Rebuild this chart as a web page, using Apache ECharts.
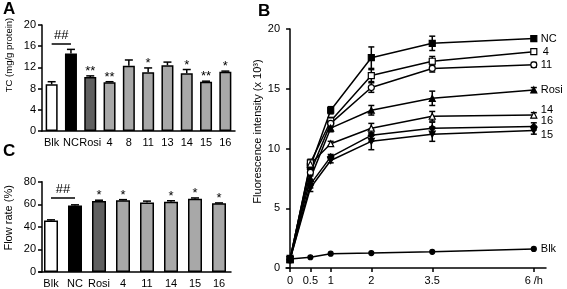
<!DOCTYPE html>
<html><head><meta charset="utf-8">
<script src="https://cdn.jsdelivr.net/npm/echarts@6/dist/echarts.min.js"></script>
<style>html,body{margin:0;padding:0;background:#fff}#c{width:567px;height:289px}</style>
</head><body><div id="c"></div>
<script>
// Panel A: TC
const catA = ['Blk','NC','Rosi','4','8','11','13','14','15','16'];
const valA = [8.8,14.6,10.2,9.2,12.3,11.1,12.4,10.9,9.3,11.2];
const errA = [0.5,0.8,0.2,0.1,1.1,0.8,0.6,0.7,0.1,0.1];
const sigA = ['','','**','**','','*','','*','**','*'];
const colA = ['#ffffff','#000000','#606060','#a8a8a8','#a8a8a8','#a8a8a8','#a8a8a8','#a8a8a8','#a8a8a8','#a8a8a8'];
// Panel C: Flow rate
const catC = ['Blk','NC','Rosi','4','11','14','15','16'];
const valC = [45.7,58.9,63.0,63.5,61.5,62.3,64.8,60.8];
const errC = [0.5,0.6,0.6,0.6,1.3,0.8,0.8,0.4];
const sigC = ['','','*','*','','*','*','*'];
const colC = ['#ffffff','#000000','#606060','#a8a8a8','#a8a8a8','#a8a8a8','#a8a8a8','#a8a8a8'];
// Panel B: fluorescence
const timesB = [0,0.5,1,2,3.5,6];
const nameB = ['NC','4','11','Rosi','14','16','15','Blk'];
const sNC   = [0.8, 8.5, 13.2, 17.6, 18.8, 19.2];
const s4    = [0.7, 8.8, 12.3, 16.1, 17.3, 18.1];
const s11   = [0.7, 8.0, 12.1, 15.1, 16.7, 17.0];
const sRosi = [0.75,7.5, 11.7, 13.2, 14.2, 14.9];
const s14   = [0.7, 8.7, 10.4, 11.7, 12.7, 12.8];
const s16   = [0.7, 7.0, 9.3, 11.1, 11.7, 11.85];
const s15   = [0.7, 6.7, 9.0, 10.6, 11.2, 11.5];
const sBlk  = [0.75,0.9, 1.2, 1.25, 1.35, 1.6];
const eNC   = [0.1,0.3,0.3,0.9,0.6,0.2];
const e4    = [0.1,0.3,0.3,0.5,0.4,0.2];
const e11   = [0.1,0.3,0.3,0.4,0.3,0.2];
const eRosi = [0.1,0.3,0.3,0.4,0.6,0.2];
const e14   = [0.1,0.3,0.2,0.4,0.4,0.2];
const e16   = [0.1,0.3,0.2,0.5,0.5,0.3];
const e15   = [0.1,0.3,0.2,0.7,0.6,0.3];
const eBlk  = [0.05,0.05,0.05,0.05,0.05,0.05];
const valsB = [sNC,s4,s11,sRosi,s14,s16,s15,sBlk];
const errsB = [eNC,e4,e11,eRosi,e14,e16,e15,eBlk];
const symB  = ['rect','rect','circle','triangle','triangle','diamond','triangle','circle'];
const fillB = ['#000','#fff','#fff','#000','#fff','#000','#000','#000'];
const rotB  = [0,0,0,0,0,0,180,0];
const offB  = [[0,0],[2,0],[0,0],[0,0],[0,-5],[0,-5],[0,4],[0,0]];

const FONT = 'Liberation Sans, Arial, sans-serif';
const chart = echarts.init(document.getElementById('c'), null, {renderer:'canvas'});

function barErr(sigs){
  return function(params, api){
    const i = api.value(0), y = api.value(1), e = api.value(2);
    const base = api.coord([i, y]);
    const top = api.coord([i, y + e]);
    const hw = 4;
    const ch = [
      {type:'line', shape:{x1:base[0],y1:base[1],x2:base[0],y2:top[1]}, style:{stroke:'#000',lineWidth:1.5}},
      {type:'line', shape:{x1:base[0]-hw,y1:top[1],x2:base[0]+hw,y2:top[1]}, style:{stroke:'#000',lineWidth:1.5}}
    ];
    const s = sigs[params.dataIndex];
    if (s) ch.push({type:'text', style:{text:s, x:base[0], y:top[1]+2, align:'center', verticalAlign:'bottom', fontSize:13, fontFamily:FONT, fill:'#000'}});
    return {type:'group', children:ch};
  };
}
function lineErr(params, api){
  const x = api.value(0), y = api.value(1), e = api.value(2);
  const p1 = api.coord([x, y + e]);
  const p2 = api.coord([x, y - e]);
  const hw = 3;
  if (e < 0.1) return null;
  return {type:'group', children:[
    {type:'line', shape:{x1:p1[0],y1:p1[1],x2:p2[0],y2:p2[1]}, style:{stroke:'#000',lineWidth:1.5}},
    {type:'line', shape:{x1:p1[0]-hw,y1:p1[1],x2:p1[0]+hw,y2:p1[1]}, style:{stroke:'#000',lineWidth:1.5}},
    {type:'line', shape:{x1:p2[0]-hw,y1:p2[1],x2:p2[0]+hw,y2:p2[1]}, style:{stroke:'#000',lineWidth:1.5}}
  ]};
}

const axisTxt = {color:'#000', fontSize:11, fontFamily:FONT};
const axLine = {show:true, lineStyle:{color:'#000', width:1.5}};

const seriesB = [];
const errDataB = [];
nameB.forEach((n, k) => {
  seriesB.push({
    type:'line', name:n, xAxisIndex:1, yAxisIndex:1,
    data: timesB.map((t, j) => [t, valsB[k][j]]),
    symbol: symB[k], symbolSize: k === 7 ? 5 : 6, symbolRotate: rotB[k],
    lineStyle:{color:'#000', width:1.5},
    itemStyle:{color: fillB[k], borderColor:'#000', borderWidth:1.2},
    endLabel:{show:true, formatter: n, color:'#000', fontSize:11, fontFamily:FONT, distance:7, offset: offB[k]},
    z: 3, animation:false
  });
  timesB.forEach((t, j) => errDataB.push([t, valsB[k][j], errsB[k][j]]));
});

const option = {
  animation:false,
  title:[
    {text:'A', left:3, top:1, padding:0, textStyle:{fontSize:17, fontWeight:'bold', fontFamily:FONT, color:'#000'}},
    {text:'B', left:258, top:3, padding:0, textStyle:{fontSize:17, fontWeight:'bold', fontFamily:FONT, color:'#000'}},
    {text:'C', left:3, top:143, padding:0, textStyle:{fontSize:17, fontWeight:'bold', fontFamily:FONT, color:'#000'}}
  ],
  grid:[
    {left:42, top:25, width:193, height:106},
    {left:286, top:29, width:260, height:239},
    {left:39, top:181.7, width:192, height:91}
  ],
  xAxis:[
    {gridIndex:0, type:'category', data:catA, axisLine:axLine, axisTick:{show:false}, axisLabel:Object.assign({margin:6, interval:0}, axisTxt)},
    {gridIndex:1, type:'value', min:-0.1, max:6.3, splitLine:{show:false}, axisLine:axLine,
      axisTick:{show:true, customValues:timesB, length:4, lineStyle:{color:'#000', width:1.5}},
      axisLabel:Object.assign({customValues:timesB, margin:7, formatter:v => v === 6 ? '6 /h' : String(v)}, axisTxt)},
    {gridIndex:2, type:'category', data:catC, axisLine:axLine, axisTick:{show:false}, axisLabel:Object.assign({margin:6, interval:0}, axisTxt)}
  ],
  yAxis:[
    {gridIndex:0, type:'value', min:0, max:20, interval:4, splitLine:{show:false}, axisLine:axLine,
      axisTick:{show:true, length:4, lineStyle:{color:'#000', width:1.5}}, axisLabel:Object.assign({margin:6}, axisTxt),
      name:'TC (mg/g protein)', nameLocation:'middle', nameGap:28,
      nameTextStyle:{color:'#000', fontSize:9.5, fontFamily:FONT, padding:[0,0,0,46]}},
    {gridIndex:1, type:'value', min:0, max:20, interval:5, splitLine:{show:false}, axisLine:axLine,
      axisTick:{show:true, length:4, lineStyle:{color:'#000', width:1.5}}, axisLabel:Object.assign({margin:6}, axisTxt),
      name:'Fluorescence intensity (x 10\u00b3)', nameLocation:'middle', nameGap:19,
      nameTextStyle:{color:'#000', fontSize:11, fontFamily:FONT, padding:[0,0,0,34]}},
    {gridIndex:2, type:'value', min:0, max:80, interval:20, offset:-3, splitLine:{show:false}, axisLine:axLine,
      axisTick:{show:true, length:4, lineStyle:{color:'#000', width:1.5}}, axisLabel:Object.assign({margin:6}, axisTxt),
      name:'Flow rate (%)', nameLocation:'middle', nameGap:28,
      nameTextStyle:{color:'#000', fontSize:11, fontFamily:FONT, padding:[0,0,0,18]}}
  ],
  series:[
    {type:'bar', xAxisIndex:0, yAxisIndex:0, barWidth:12,
      data: valA.map((v, i) => ({value:v, itemStyle:{color:colA[i]}})),
      itemStyle:{borderColor:'#000', borderWidth:1.5},
      markLine:{silent:true, symbol:'none', lineStyle:{color:'#000', width:1.5, type:'solid'},
        label:{show:true, position:'middle', formatter:'##', color:'#000', fontSize:13, fontFamily:FONT, distance:2},
        data:[[{coord:[-0.15, 16.4]}, {coord:[1.15, 16.4]}]]}},
    {type:'custom', xAxisIndex:0, yAxisIndex:0, renderItem:barErr(sigA), data: valA.map((v, i) => [i, v, errA[i]]), z:5},
    {type:'bar', xAxisIndex:2, yAxisIndex:2, barWidth:14,
      data: valC.map((v, i) => ({value:v, itemStyle:{color:colC[i]}})),
      itemStyle:{borderColor:'#000', borderWidth:1.5},
      markLine:{silent:true, symbol:'none', lineStyle:{color:'#000', width:1.5, type:'solid'},
        label:{show:true, position:'middle', formatter:'##', color:'#000', fontSize:13, fontFamily:FONT, distance:2},
        data:[[{coord:[0.1, 65.4]}, {coord:[1.15, 65.4]}]]}},
    {type:'custom', xAxisIndex:2, yAxisIndex:2, renderItem:barErr(sigC), data: valC.map((v, i) => [i, v, errC[i]]), z:5},
    {type:'custom', xAxisIndex:1, yAxisIndex:1, renderItem:lineErr, data: errDataB, z:2}
  ].concat(seriesB)
};
chart.setOption(option);
</script></body></html>
